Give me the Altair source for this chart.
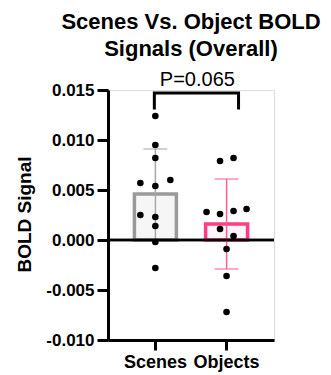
import altair as alt
import pandas as pd

# ---- data ----
groups = ["Scenes", "Objects"]
scenes_vals = [0.0124, 0.0095, 0.0082, 0.0057, 0.0060, 0.0054, 0.0025, 0.0023, 0.0014, -0.0002, -0.0028]
scenes_jit = [0, 0, 0, -15, 15, 0, -15, 0, 0, 0, 0]
objects_vals = [0.0082, 0.0079, 0.0031, 0.0029, 0.0028, 0.0026, 0.0011, 0.0004, -0.0009, -0.0036, -0.0072]
objects_jit = [7, -6.5, 20, 7, -20, -6.5, -6.5, 7, 0, 0, 0]
means = [0.0046, 0.0016]
sds = [0.0045, 0.0045]
p_label = "P=0.065"
bracket_low = 0.0132
bracket_high = 0.0147
label_y = 0.01537
y_ticks = [-0.010, -0.005, 0.0, 0.005, 0.010, 0.015]

stroke_cols = ["#9a9a9a", "#ff3d85"]
fill_cols = ["#f6f6f6", "#fff4f8"]
err_cols = ["#a8a8a8", "#ff5c97"]
FONT = "Liberation Sans"

points = pd.DataFrame({
    "group": ["Scenes"] * len(scenes_vals) + ["Objects"] * len(objects_vals),
    "value": scenes_vals + objects_vals,
    "jit": scenes_jit + objects_jit,
})
summary = pd.DataFrame({
    "group": groups,
    "mean": means,
    "lo": [m - s for m, s in zip(means, sds)],
    "hi": [m + s for m, s in zip(means, sds)],
})
caps = pd.concat([
    summary[["group"]].assign(v=summary["lo"]),
    summary[["group"]].assign(v=summary["hi"]),
])
bracket = pd.DataFrame({
    "group": ["Scenes", "Scenes", "Objects", "Objects"],
    "off": [-1, -1, 12, 12],
    "y": [bracket_low, bracket_high, bracket_high, bracket_low],
    "ord": [0, 1, 2, 3],
})
ptext = pd.DataFrame({"group": ["Scenes"], "off": [42], "y": [label_y], "t": [p_label]})

xscale = alt.Scale(domain=groups, paddingInner=0.4085, paddingOuter=0.37)
yscale = alt.Scale(domain=[-0.010, 0.015], nice=False, zero=False)
oscale = alt.Scale(domain=[-21, 21], range=[0, 42])

xaxis = alt.Axis(title=None, labelFont=FONT, labelFontSize=18, labelFontWeight="bold",
                 labelColor="black", labelAngle=0, labelPadding=3,
                 domainColor="black", domainWidth=3, tickColor="black", tickWidth=3,
                 tickSize=10, grid=False)
yaxis = alt.Axis(title="BOLD Signal", values=y_ticks, format=".3f",
                 labelExpr="replace(format(datum.value, '.3f'), '\u2212', '-')",
                 labelFont=FONT, labelFontSize=17, labelFontWeight="bold", labelColor="black",
                 labelPadding=3, domainColor="black", domainWidth=3, tickColor="black",
                 tickWidth=3, tickSize=11, grid=False,
                 titleFont=FONT, titleFontSize=19, titleFontWeight="bold", titleColor="black",
                 titleAngle=270, titleAlign="center", titleBaseline="alphabetic",
                 titleX=-78, titleY=124)

X = alt.X("group:N", sort=groups, scale=xscale, axis=xaxis)

bars = alt.Chart(summary).mark_bar(strokeWidth=3.5, width=42).encode(
    x=X,
    y=alt.Y("mean:Q", scale=yscale, axis=yaxis),
    stroke=alt.Stroke("group:N", scale=alt.Scale(domain=groups, range=stroke_cols), legend=None),
    fill=alt.Fill("group:N", scale=alt.Scale(domain=groups, range=fill_cols), legend=None),
)
err = alt.Chart(summary).mark_rule(strokeWidth=1.5).encode(
    x=X, y=alt.Y("lo:Q", scale=yscale), y2="hi:Q",
    color=alt.Color("group:N", scale=alt.Scale(domain=groups, range=err_cols), legend=None),
)
errcaps = alt.Chart(caps).mark_tick(orient="horizontal", size=24, thickness=1.5).encode(
    x=X, y=alt.Y("v:Q", scale=yscale),
    color=alt.Color("group:N", scale=alt.Scale(domain=groups, range=err_cols), legend=None),
)
zero = alt.Chart(summary).mark_rule(color="black", strokeWidth=2.5).encode(y=alt.datum(0))
dots = alt.Chart(points).mark_circle(size=44, color="black", opacity=1).encode(
    x=X, xOffset=alt.XOffset("jit:Q", scale=oscale), y=alt.Y("value:Q", scale=yscale),
)
brk = alt.Chart(bracket).mark_line(color="black", strokeWidth=3, strokeCap="square",
                                   strokeJoin="miter").encode(
    x=X, xOffset=alt.XOffset("off:Q", scale=oscale), y=alt.Y("y:Q", scale=yscale),
    order="ord:Q",
)
ptxt = alt.Chart(ptext).mark_text(font=FONT, fontSize=20, color="black",
                                  align="center", baseline="alphabetic").encode(
    x=X, xOffset=alt.XOffset("off:Q", scale=oscale), y=alt.Y("y:Q", scale=yscale), text="t:N",
)

chart = alt.layer(bars, err, errcaps, zero, dots, brk, ptxt).properties(
    width=166, height=250,
    title=alt.TitleParams(["Scenes Vs. Object BOLD", "Signals (Overall)"], font=FONT,
                          fontSize=22, fontWeight="bold", color="black", lineHeight=27,
                          anchor="middle", offset=9),
    autosize=alt.AutoSizeParams(type="none"),
    padding={"left": 100, "top": 82, "right": 48, "bottom": 33},
).configure_view(stroke=None).configure(background="white")

chart.save("out.html", embed_options={"renderer": "svg", "actions": False})
